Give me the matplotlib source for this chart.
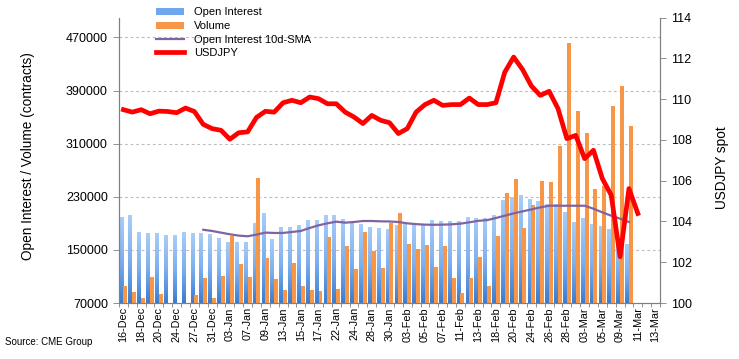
import numpy as np
import matplotlib
matplotlib.use("Agg")
import matplotlib.pyplot as plt
from matplotlib.colors import LinearSegmentedColormap
from matplotlib.patches import Patch
from matplotlib.lines import Line2D

plt.rcParams['font.family'] = ['Liberation Sans', 'DejaVu Sans']

dates = ['16-Dec','17-Dec','18-Dec','19-Dec','20-Dec','23-Dec','24-Dec','26-Dec','27-Dec','30-Dec','31-Dec',
         '02-Jan','03-Jan','06-Jan','07-Jan','08-Jan','09-Jan','10-Jan','13-Jan','14-Jan','15-Jan','16-Jan',
         '17-Jan','21-Jan','22-Jan','23-Jan','24-Jan','27-Jan','28-Jan','29-Jan','30-Jan','31-Jan',
         '03-Feb','04-Feb','05-Feb','06-Feb','07-Feb','10-Feb','11-Feb','12-Feb','13-Feb','14-Feb',
         '18-Feb','19-Feb','20-Feb','21-Feb','24-Feb','25-Feb','26-Feb','27-Feb','28-Feb',
         '02-Mar','03-Mar','04-Mar','05-Mar','06-Mar','09-Mar','10-Mar','11-Mar','12-Mar','13-Mar']

open_interest = [199800, 202000, 176300, 175300, 175300, 172300, 172300, 176300, 175300, 175300,
                 173800, 167800, 161300, 161300, 162200, 190500, 205600, 166300, 184800, 184800,
                 187500, 194800, 194800, 202400, 202400, 196300, 192300, 188800, 184800, 182800,
                 181300, 187500, 188800, 188800, 188000, 194800, 193300, 193300, 193300, 199300,
                 197800, 197800, 202400, 224900, 229400, 233400, 226400, 223400, 218900, 218900,
                 206600, 191500, 197800, 188800, 185800, 181300, 170000, 158700]

volume = [95600, 86500, 77500, 109100, 83500, 60000, 50000, 55000, 82000, 107600,
          77500, 110600, 171200, 128700, 109100, 258000, 137700, 106100, 89600, 130400,
          95600, 89600, 88300, 169300, 91000, 155700, 121100, 176800, 148000, 122600,
          190500, 205400, 158700, 151200, 157200, 124100, 155700, 107600, 85000, 107600,
          139200, 95600, 170800, 235400, 256500, 182800, 217400, 253500, 252000, 306100,
          462000, 359700, 325700, 241500, 246000, 366300, 396600, 336500]

sma_start = 9
oi_sma = [180300, 178500, 176000, 173500, 171500, 170500, 173000, 176000, 175500, 175500,
          177000, 178500, 183000, 187000, 190000, 192500, 191000, 192000, 193500, 193500,
          193000, 192800, 192000, 190000, 188800, 188000, 187800, 188000, 188500, 189500,
          191500, 193800, 194800, 198000, 201500, 205000, 208000, 211000, 214000, 216500,
          216500, 216500, 216500, 216500, 212000, 206500, 201500, 197000, 192000]

usdjpy = [109.48, 109.36, 109.48, 109.28, 109.41, 109.39, 109.33, 109.56, 109.39, 108.76,
          108.55, 108.47, 108.03, 108.35, 108.39, 109.10, 109.40, 109.36, 109.82, 109.94,
          109.82, 110.10, 110.02, 109.77, 109.77, 109.36, 109.12, 108.80, 109.20, 108.96,
          108.84, 108.31, 108.55, 109.36, 109.73, 109.94, 109.69, 109.73, 109.73, 110.05,
          109.73, 109.73, 109.82, 111.32, 112.06, 111.45, 110.64, 110.18, 110.38, 109.53,
          108.06, 108.22, 107.08, 107.49, 106.10, 105.29, 102.27, 105.61, 104.39]

left_ticks = [70000, 150000, 230000, 310000, 390000, 470000]
right_ticks = [100, 102, 104, 106, 108, 110, 112, 114]

W, H = 739, 359
fig = plt.figure(figsize=(W / 100, H / 100), dpi=100)
ax = fig.add_axes([119 / W, 1 - 303 / H, (660 - 119) / W, (303 - 17.5) / H])
ax2 = ax.twinx()

n = len(dates)
x = np.arange(n)
grey = '#808080'
ymin, ymax = 70000, 500000

# grid
for t in left_ticks[1:]:
    ax.axhline(t, color='#BDBDBD', lw=0.8, ls=(0, (2.5, 2.5)), zorder=0)

bw = 0.42
xo = np.arange(len(open_interest))
cmap = LinearSegmentedColormap.from_list('oi', ['#3A7CD0', '#7FB0EE', '#A9CDF8'])
grad = np.linspace(0, 1, 256).reshape(-1, 1)
bars = ax.bar(xo - 0.22, open_interest, width=bw, color='none', edgecolor='none', zorder=2)
for b in bars:
    x0 = b.get_x()
    im = ax.imshow(grad, extent=[x0, x0 + b.get_width(), ymin, b.get_height()], origin='lower',
                   cmap=cmap, aspect='auto', zorder=2, interpolation='bilinear')
    im.set_clip_path(b)

xv = np.arange(len(volume))
ax.bar(xv + 0.22, volume, width=bw + 0.03, color='#F79646', edgecolor='none', zorder=3)

xs = np.arange(sma_start, sma_start + len(oi_sma))
ax.plot(xs, oi_sma, color='#8064A2', lw=1.6, zorder=4)

xu = np.arange(len(usdjpy))
ax2.plot(xu, usdjpy, color='#FF0000', lw=3.4, solid_joinstyle='round', zorder=5)

ax.set_xlim(-0.5, n - 0.5)
ax.set_ylim(ymin, ymax)
ax2.set_ylim(100, 114)
ax.set_yticks(left_ticks)
ax.set_yticklabels([str(t) for t in left_ticks], fontsize=9)
ax2.set_yticks(right_ticks)
ax2.set_yticklabels([str(t) for t in right_ticks], fontsize=9)

ax.set_xticks(x[::2])
ax.set_xticklabels(dates[::2], rotation=90, fontsize=7.8)
ax.set_xticks(np.arange(-0.5, n, 1), minor=True)
ax.tick_params(axis='x', which='major', length=0, pad=3)
ax.tick_params(axis='x', which='minor', length=3, color=grey, width=0.6)
ax.tick_params(axis='y', length=4, color=grey, width=0.6, pad=4)
ax2.tick_params(axis='y', length=4, color=grey, width=0.6, pad=4)

for a in (ax, ax2):
    a.spines['top'].set_visible(False)
    for s in ('left', 'right', 'bottom'):
        a.spines[s].set_color(grey)
        a.spines[s].set_linewidth(0.8)

ax.set_ylabel('Open Interest / Volume (contracts)', fontsize=9.8)
ax.yaxis.set_label_coords(-0.155, 0.515)
ax2.set_ylabel('USDJPY spot', fontsize=9.8)
ax2.yaxis.set_label_coords(1.102, 0.475)

handles = [Patch(facecolor='#6FA6EC', edgecolor='none'),
           Patch(facecolor='#F79646', edgecolor='none'),
           Line2D([], [], color='#8064A2', lw=1.6),
           Line2D([], [], color='#FF0000', lw=3.4)]
labels = ['Open Interest', 'Volume', 'Open Interest 10d-SMA', 'USDJPY']
fig.legend(handles, labels, loc='upper left', bbox_to_anchor=(152 / W, 1 - 3 / H),
           frameon=False, fontsize=8, handlelength=2.5, handleheight=0.6,
           labelspacing=0.32, handletextpad=0.9, borderaxespad=0)

fig.text(5 / W, 1 - 342 / H, 'Source: CME Group', fontsize=7, va='center', ha='left')

fig.savefig('out.png', dpi=100)
